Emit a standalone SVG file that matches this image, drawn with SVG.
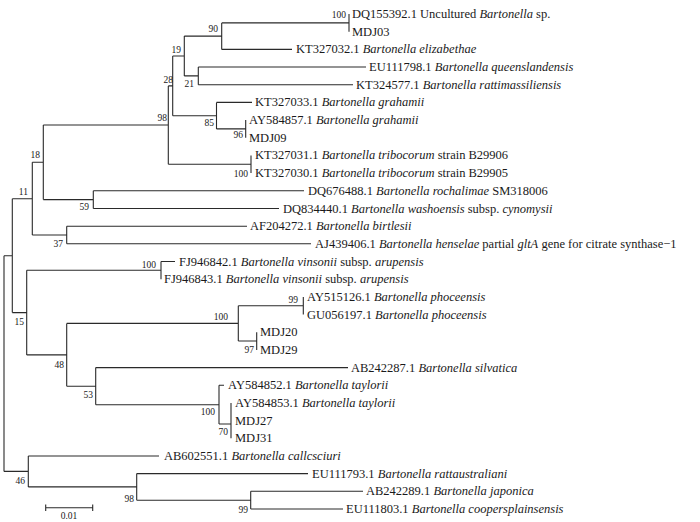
<svg xmlns="http://www.w3.org/2000/svg" width="700" height="522" viewBox="0 0 700 522">
<style>
.b{fill:none;stroke:#2a2a2a;stroke-width:1.1}
.t{font-family:"Liberation Serif","Times New Roman",serif;font-size:12.5px;fill:#1a1a1a}
.i{font-style:italic}
.s{font-family:"Liberation Serif","Times New Roman",serif;font-size:9.5px;fill:#1a1a1a;text-anchor:end}
.sc{font-family:"Liberation Serif","Times New Roman",serif;font-size:9.5px;fill:#1a1a1a;text-anchor:middle}
</style>
<rect width="700" height="522" fill="#fff"/>
<g id="connectors" class="b">
<path d="M4,255.7V471.4 M4,255.7H12.3 M12.3,198.7V312.6 M12.3,198.7H32.3 M32.3,162.3V235 M32.3,162.3H43.3 M43.3,125V199.6 M43.3,125H168.3 M168.3,85.9V164.2 M168.3,85.9H172.7 M172.7,56V115.7 M172.7,56H184.3 M184.3,36.1V75.9 M184.3,36.1H221.7 M221.7,22.9V49.4 M221.7,22.9H349 M349,14V31.7 M221.7,49.4H292 M184.3,75.9H198.3 M198.3,67V84.7 M198.3,67H366 M198.3,84.7H353 M172.7,115.7H216.5 M216.5,102.4V128.9 M216.5,102.4H252 M216.5,128.9H245.7 M245.7,120V137.8 M168.3,164.2H251 M251,155.4V173 M43.3,199.6H93.3 M93.3,190.8V208.5 M93.3,190.8H304 M93.3,208.5H279 M32.3,235H66.7 M66.7,226.2V243.8 M66.7,226.2H247 M66.7,243.8H311 M12.3,312.6H26.7 M26.7,270.3V354.9 M26.7,270.3H161 M161,261.5V279.2 M161,261.5H175 M26.7,354.9H66.7 M66.7,323.4V386.3 M66.7,323.4H238.3 M238.3,305.7V341 M238.3,305.7H303.3 M303.3,296.9V314.6 M238.3,341H256.7 M256.7,332.2V349.9 M66.7,386.3H95.7 M95.7,367.6V404.7 M95.7,367.6H348 M95.7,404.7H219 M219,385.3V424 M219,385.3H224 M219,424H231 M231,402.9V438.3 M4,471.4H28.3 M28.3,456V486.9 M28.3,456H159 M28.3,486.9H136.7 M136.7,473.6V500.2 M136.7,473.6H308 M136.7,500.2H250.7 M250.7,491.3V509 M250.7,491.3H363 M250.7,509H343"/>
</g>
<g id="leaves" class="t">
<text x="352" y="18">DQ155392.1 Uncultured <tspan class="i">Bartonella</tspan> sp.</text>
<text x="352" y="35.7">MDJ03</text>
<text x="296" y="53.4">KT327032.1 <tspan class="i">Bartonella elizabethae</tspan></text>
<text x="369" y="71">EU111798.1 <tspan class="i">Bartonella queenslandensis</tspan></text>
<text x="356" y="88.7">KT324577.1 <tspan class="i">Bartonella rattimassiliensis</tspan></text>
<text x="255" y="106.4">KT327033.1 <tspan class="i">Bartonella grahamii</tspan></text>
<text x="249" y="124">AY584857.1 <tspan class="i">Bartonella grahamii</tspan></text>
<text x="249" y="141.8">MDJ09</text>
<text x="255" y="159.4">KT327031.1 <tspan class="i">Bartonella tribocorum</tspan> strain B29906</text>
<text x="255" y="177">KT327030.1 <tspan class="i">Bartonella tribocorum</tspan> strain B29905</text>
<text x="308" y="194.8">DQ676488.1 <tspan class="i">Bartonella rochalimae</tspan> SM318006</text>
<text x="283" y="212.5">DQ834440.1 <tspan class="i">Bartonella washoensis</tspan> subsp. <tspan class="i">cynomysii</tspan></text>
<text x="250" y="230.2">AF204272.1 <tspan class="i">Bartonella birtlesii</tspan></text>
<text x="315" y="247.8">AJ439406.1 <tspan class="i">Bartonella henselae</tspan> partial <tspan class="i">gltA</tspan> gene for citrate synthase−1</text>
<text x="179" y="265.5">FJ946842.1 <tspan class="i">Bartonella vinsonii</tspan> subsp. <tspan class="i">arupensis</tspan></text>
<text x="164" y="283.2">FJ946843.1 <tspan class="i">Bartonella vinsonii</tspan> subsp. <tspan class="i">arupensis</tspan></text>
<text x="307" y="300.9">AY515126.1 <tspan class="i">Bartonella phoceensis</tspan></text>
<text x="307" y="318.6">GU056197.1 <tspan class="i">Bartonella phoceensis</tspan></text>
<text x="260" y="336.2">MDJ20</text>
<text x="260" y="353.9">MDJ29</text>
<text x="351" y="371.6">AB242287.1 <tspan class="i">Bartonella silvatica</tspan></text>
<text x="228" y="389.3">AY584852.1 <tspan class="i">Bartonella taylorii</tspan></text>
<text x="235" y="406.9">AY584853.1 <tspan class="i">Bartonella taylorii</tspan></text>
<text x="235" y="424.6">MDJ27</text>
<text x="235" y="442.3">MDJ31</text>
<text x="164" y="460">AB602551.1 <tspan class="i">Bartonella callcsciuri</tspan></text>
<text x="312" y="477.6">EU111793.1 <tspan class="i">Bartonella rattaustraliani</tspan></text>
<text x="366" y="495.3">AB242289.1 <tspan class="i">Bartonella japonica</tspan></text>
<text x="346" y="513">EU111803.1 <tspan class="i">Bartonella coopersplainsensis</tspan></text>
</g>
<g id="bootstrap" class="s">
<text x="346" y="18">100</text>
<text x="218" y="32">90</text>
<text x="181" y="53">19</text>
<text x="194" y="87">21</text>
<text x="173" y="83">28</text>
<text x="167" y="121">98</text>
<text x="214" y="126">85</text>
<text x="243" y="138">96</text>
<text x="248" y="177">100</text>
<text x="40" y="158">18</text>
<text x="89" y="210">59</text>
<text x="28" y="195">11</text>
<text x="63" y="247">37</text>
<text x="156" y="268">100</text>
<text x="24" y="325">15</text>
<text x="298" y="303">99</text>
<text x="228" y="320">100</text>
<text x="254" y="353">97</text>
<text x="64" y="368">48</text>
<text x="93" y="398">53</text>
<text x="215" y="415">100</text>
<text x="228" y="435">70</text>
<text x="25" y="484">46</text>
<text x="134" y="502">98</text>
<text x="248" y="513">99</text>
</g>
<g id="scalebar">
<path class="b" d="M45.7,507.7H92.7 M45.7,504.5V511 M92.7,504.5V511"/>
<text class="sc" x="69" y="518.5">0.01</text>
</g>
</svg>
